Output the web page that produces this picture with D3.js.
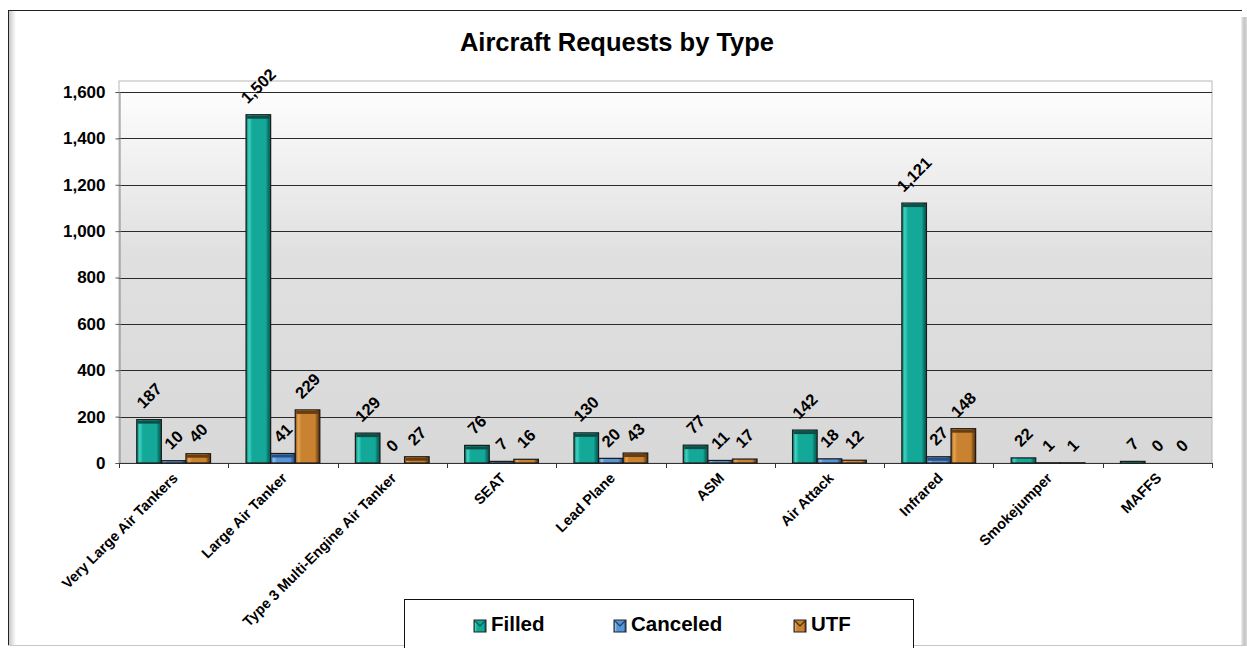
<!DOCTYPE html>
<html>
<head>
<meta charset="utf-8">
<script src="https://cdnjs.cloudflare.com/ajax/libs/d3/7.8.5/d3.min.js"></script>
<style>
  html, body { margin: 0; padding: 0; background: #ffffff; }
  svg { display: block; }
  text { font-family: Arial, "Liberation Sans", sans-serif; font-weight: bold; fill: #000; }
</style>
</head>
<body>
<svg id="chart" width="1247" height="648"></svg>
<script>
// ---- data ----
const categories = ["Very Large Air Tankers", "Large Air Tanker", "Type 3 Multi-Engine Air Tanker", "SEAT", "Lead Plane", "ASM", "Air Attack", "Infrared", "Smokejumper", "MAFFS"];
const seriesNames = ["Filled", "Canceled", "UTF"];
const filled   = [187, 1502, 129, 76, 130, 77, 142, 1121, 22, 7];
const canceled = [10, 41, 0, 7, 20, 11, 18, 27, 1, 0];
const utf      = [40, 229, 27, 16, 43, 17, 12, 148, 1, 0];
const yTicks   = [0, 200, 400, 600, 800, 1000, 1200, 1400, 1600];
const titleText = "Aircraft Requests by Type";

const seriesValues = [filled, canceled, utf];
const palettes = {
  Filled:   {edge: "#0a5d55", light: "#3fd4c2", mid: "#14a898", dark: "#08756a", top: "#0c4f48"},
  Canceled: {edge: "#1f3f66", light: "#8cc0f0", mid: "#5895d6", dark: "#3566a0", top: "#284f80"},
  UTF:      {edge: "#4a2c0c", light: "#eaa552", mid: "#c98330", dark: "#8a5218", top: "#6a3c10"}
};

const svg = d3.select("#chart");
const defs = svg.append("defs");

// ---- frame ----
const frame = {x: 8, y: 10, w: 1234, h: 636};
const shL = defs.append("linearGradient").attr("id", "shadowL").attr("x1", 0).attr("x2", 1).attr("y1", 0).attr("y2", 0);
shL.append("stop").attr("offset", 0).attr("stop-color", "#c8c8c8");
shL.append("stop").attr("offset", 1).attr("stop-color", "#ffffff");
const shR = defs.append("linearGradient").attr("id", "shadowR").attr("x1", 0).attr("x2", 1).attr("y1", 0).attr("y2", 0);
shR.append("stop").attr("offset", 0).attr("stop-color", "#f0f0f0");
shR.append("stop").attr("offset", 0.5).attr("stop-color", "#c4c4c4");
shR.append("stop").attr("offset", 1).attr("stop-color", "#d8d8d8");

svg.append("rect").attr("x", frame.x).attr("y", frame.y).attr("width", frame.w).attr("height", frame.h).attr("fill", "#fff");
svg.append("rect").attr("x", frame.x + 1).attr("y", frame.y + 1).attr("width", 7).attr("height", frame.h - 1).attr("fill", "url(#shadowL)");
svg.append("rect").attr("x", frame.x + frame.w - 1).attr("y", frame.y + 7).attr("width", 6).attr("height", frame.h - 7).attr("fill", "url(#shadowR)");
svg.append("line").attr("x1", frame.x).attr("x2", frame.x + frame.w).attr("y1", frame.y + 0.5).attr("y2", frame.y + 0.5).attr("stroke", "#222");
svg.append("line").attr("x1", frame.x + 0.5).attr("x2", frame.x + 0.5).attr("y1", frame.y).attr("y2", frame.y + frame.h).attr("stroke", "#222");
svg.append("line").attr("x1", frame.x).attr("x2", frame.x + frame.w + 4).attr("y1", frame.y + frame.h - 0.5).attr("y2", frame.y + frame.h - 0.5).attr("stroke", "#c8c8c8");

// ---- title ----
svg.append("text").attr("x", 617).attr("y", 51).attr("text-anchor", "middle")
  .style("font-size", "25.5px").text(titleText);

// ---- plot area ----
const plot = {left: 119, right: 1212, top: 81, bottom: 463};
const bg = defs.append("linearGradient").attr("id", "plotBg").attr("x1", 0).attr("x2", 0).attr("y1", 0).attr("y2", 1);
bg.append("stop").attr("offset", 0).attr("stop-color", "#ffffff");
bg.append("stop").attr("offset", 0.45).attr("stop-color", "#e0e0e0");
bg.append("stop").attr("offset", 1).attr("stop-color", "#d8d8d8");
svg.append("rect").attr("x", plot.left).attr("y", plot.top).attr("width", plot.right - plot.left)
  .attr("height", plot.bottom - plot.top).attr("fill", "url(#plotBg)").attr("stroke", "#b8b8b8");

const y = d3.scaleLinear().domain([0, 1600]).range([plot.bottom, 92]);
const x0 = d3.scaleBand().domain(categories).range([plot.left, plot.right]).padding(0);
const barW = x0.bandwidth() * 0.225;
const groupOff = (x0.bandwidth() - 3 * barW) / 2;
const x1 = d3.scaleBand().domain(seriesNames).range([groupOff, groupOff + 3 * barW]).padding(0);

// gridlines
svg.append("g").selectAll("line").data(yTicks.filter(d => d > 0)).join("line")
  .attr("x1", plot.left).attr("x2", plot.right)
  .attr("y1", d => Math.round(y(d)) + 0.5).attr("y2", d => Math.round(y(d)) + 0.5)
  .attr("stroke", "#2a2a2a").attr("stroke-width", 1);

// y axis
const yAxis = d3.axisLeft(y).tickValues(yTicks).tickSize(4).tickPadding(10).tickFormat(d3.format(","));
const gy = svg.append("g").attr("transform", `translate(${plot.left + 0.5},0)`).call(yAxis);
gy.select(".domain").attr("stroke", "#8a8a8a");
gy.selectAll(".tick line").attr("stroke", "#555");
gy.selectAll(".tick text").style("font-size", "17px").style("font-family", "Arial, 'Liberation Sans', sans-serif").style("font-weight", "bold").attr("fill", "#000");

// x axis line and ticks at category boundaries
svg.append("line").attr("x1", plot.left).attr("x2", plot.right).attr("y1", plot.bottom + 0.5).attr("y2", plot.bottom + 0.5).attr("stroke", "#333");
const boundaries = categories.map(c => x0(c)).concat([plot.right]);
svg.append("g").selectAll("line").data(boundaries).join("line")
  .attr("x1", d => Math.round(d) + 0.5).attr("x2", d => Math.round(d) + 0.5)
  .attr("y1", plot.bottom).attr("y2", plot.bottom + 5).attr("stroke", "#333");

// x labels
svg.append("g").selectAll("text").data(categories).join("text")
  .attr("text-anchor", "end")
  .attr("transform", d => `translate(${x0(d) + x0.bandwidth() / 2 + 5},${plot.bottom + 16}) rotate(-45)`)
  .style("font-size", "14.5px").text(d => d);

// gradients for bars
seriesNames.forEach(s => {
  const p = palettes[s];
  const g = defs.append("linearGradient").attr("id", "grad-" + s).attr("x1", 0).attr("x2", 1).attr("y1", 0).attr("y2", 0);
  g.append("stop").attr("offset", 0).attr("stop-color", p.dark);
  g.append("stop").attr("offset", 0.12).attr("stop-color", p.light);
  g.append("stop").attr("offset", 0.25).attr("stop-color", p.mid);
  g.append("stop").attr("offset", 0.8).attr("stop-color", p.mid);
  g.append("stop").attr("offset", 0.9).attr("stop-color", p.dark);
  g.append("stop").attr("offset", 1).attr("stop-color", p.edge);
});

// bars
const barData = [];
categories.forEach((c, i) => {
  seriesNames.forEach((s, j) => {
    barData.push({cat: c, series: s, value: seriesValues[j][i]});
  });
});

const bars = svg.append("g").selectAll("g").data(barData).join("g");
bars.filter(d => d.value > 0).append("rect")
  .attr("x", d => x0(d.cat) + x1(d.series))
  .attr("y", d => y(d.value))
  .attr("width", x1.bandwidth())
  .attr("height", d => y(0) - y(d.value))
  .attr("fill", d => `url(#grad-${d.series})`)
  .attr("stroke", d => "#1a1a1a").attr("stroke-width", 1.2);
bars.filter(d => y(0) - y(d.value) > 6).append("rect")
  .attr("x", d => x0(d.cat) + x1(d.series) + 1)
  .attr("y", d => y(d.value) + 1)
  .attr("width", x1.bandwidth() - 2)
  .attr("height", 3)
  .attr("fill", d => palettes[d.series].top);

// data labels
const fmt = d3.format(",");
const labelSize = 16.5;
const labels = svg.append("g").selectAll("text").data(barData).join("text")
  .attr("text-anchor", "middle")
  .attr("dy", "0.35em")
  .style("font-size", labelSize + "px")
  .text(d => fmt(d.value));
labels.each(function(d) {
  const w = this.getComputedTextLength();
  const h = labelSize * 0.72;
  const half = (w + h) / Math.SQRT2 / 2;
  const cx = x0(d.cat) + x1(d.series) + x1.bandwidth() / 2;
  const cy = y(d.value) - 10 - half;
  d3.select(this).attr("transform", `translate(${cx},${cy}) rotate(-45)`);
});

// ---- legend ----
const leg = {x: 404, y: 599, w: 509, h: 60};
svg.append("rect").attr("x", leg.x + 0.5).attr("y", leg.y + 0.5).attr("width", leg.w).attr("height", leg.h)
  .attr("fill", "#fff").attr("stroke", "#111");
const legX = d3.scaleOrdinal().domain(seriesNames).range([474, 614, 794]);
const li = svg.append("g").selectAll("g").data(seriesNames).join("g")
  .attr("transform", d => `translate(${legX(d)},620)`);
li.append("rect").attr("width", 12).attr("height", 12)
  .attr("fill", d => `url(#grad-${d})`).attr("stroke", "#222");
li.append("path").attr("d", "M1,1 L6,6 L11,1").attr("fill", "none").attr("stroke", d => palettes[d].edge).attr("stroke-width", 1.2);
li.append("text").attr("x", 17).attr("y", 11).style("font-size", "20.5px").text(d => d);
</script>
</body>
</html>
